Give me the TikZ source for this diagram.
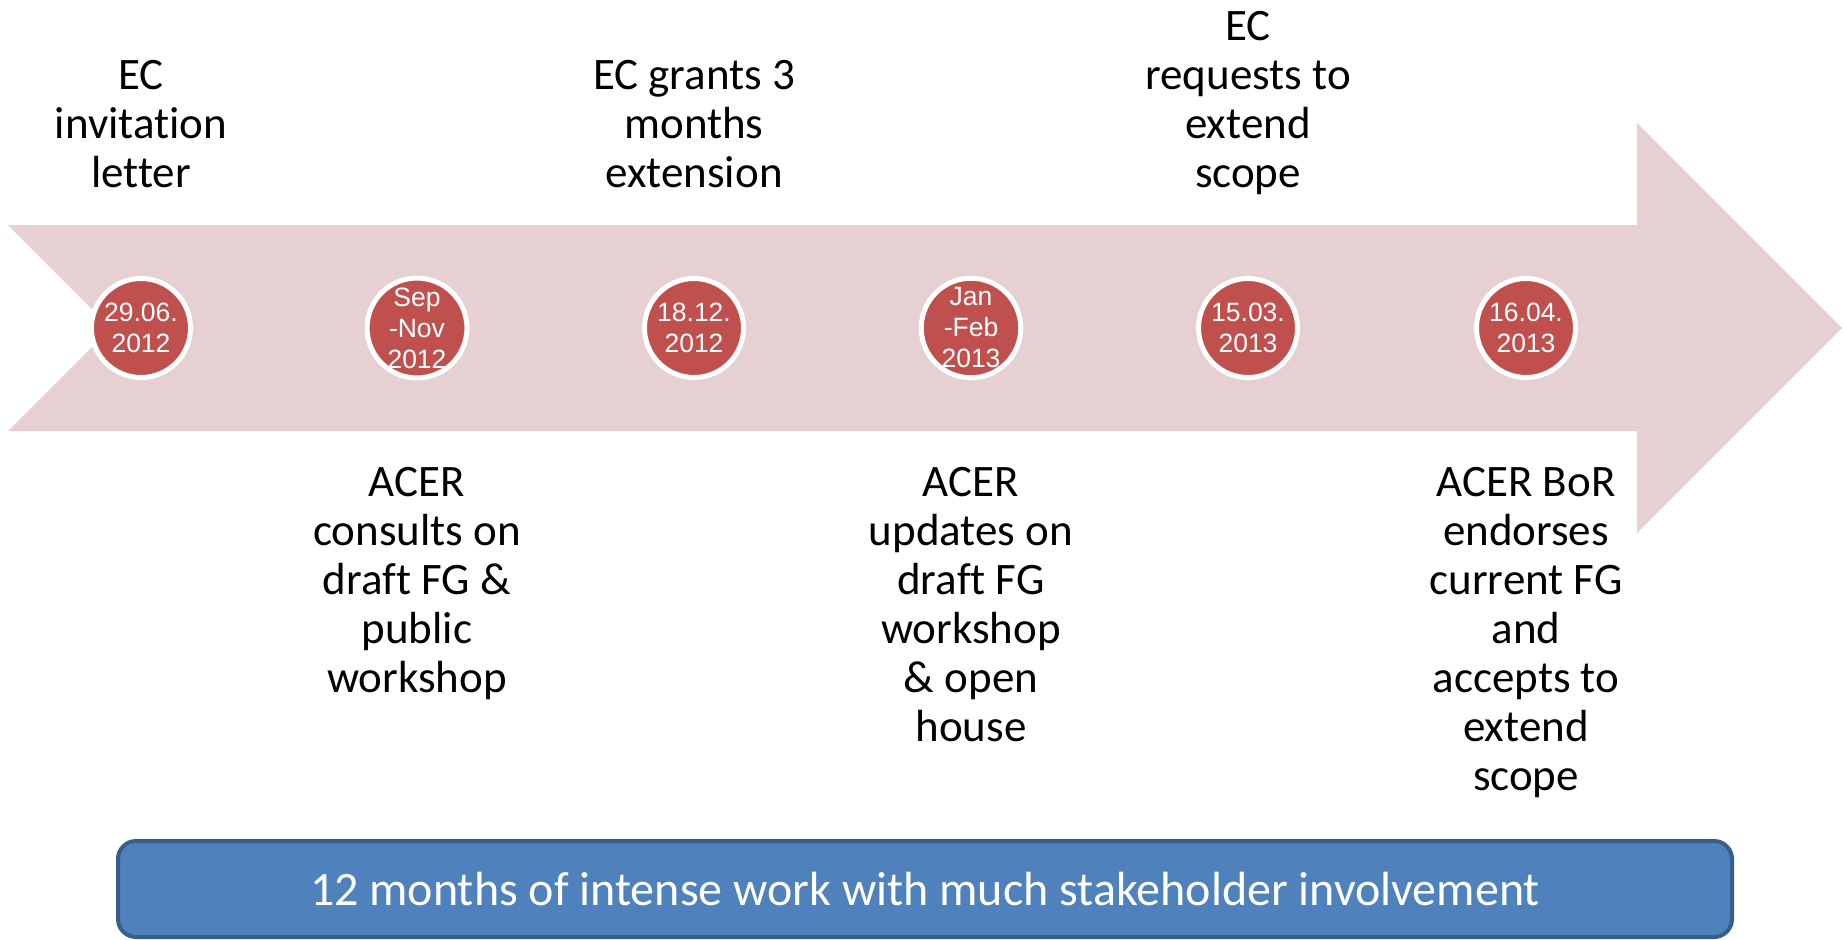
\documentclass[tikz,border=0pt]{standalone}
\usepackage{fontspec}
\setmainfont{Carlito}[Ligatures=NoCommon]
\newfontfamily\datefont{Liberation Sans}
\usepackage{tikz}
\usetikzlibrary{calc,positioning,shapes.geometric}
\definecolor{arrowpink}{HTML}{E7D0D1}
\definecolor{datered}{HTML}{C0504D}
\definecolor{bannerblue}{HTML}{4F81BD}
\definecolor{bannerline}{HTML}{385D8A}
\tikzset{
	datecirc/.style={circle, fill=datered, draw=white, line width=5pt, minimum size=99pt, inner sep=0pt, align=center, text=white, font=\datefont\fontsize{26.5}{31}\selectfont},
	toplabel/.style={anchor=south, align=center, inner sep=0pt, text depth=0pt, font=\fontsize{45}{49}\selectfont},
	botlabel/.style={anchor=north, align=center, inner sep=0pt, font=\fontsize{45}{49}\selectfont},
	bannerbox/.style={rectangle, rounded corners=18pt, fill=bannerblue, draw=bannerline, line width=4pt, minimum width=1614pt, minimum height=96pt, text=white, font=\fontsize{48}{49}\selectfont}
}
\begin{document}
\begin{tikzpicture}[x=1pt,y=-1pt]
	 		\useasboundingbox (0,0) rectangle (1843,939);
	 		% big arrow
	 		\coordinate (L1) at (8,225);
	 		\coordinate (L2) at (8,431);
	 		\coordinate (N) at (111,328);
	 		\coordinate (H1) at (1637,225);
	 		\coordinate (H2) at (1637,123);
	 		\coordinate (T) at (1842,328);
	 		\coordinate (H3) at (1637,533);
	 		\coordinate (H4) at (1637,431);
	 		\fill[arrowpink] (L1)--(H1)--(H2)--(T)--(H3)--(H4)--(L2)--(N)--cycle;
	 		% dates
	 		\node[datecirc] (d1) at (141,328) {29.06.\\2012};
	 		\node[datecirc] (d2) at (417,328) {Sep\\-Nov\\2012};
	 		\node[datecirc] (d3) at (694,328) {18.12.\\2012};
	 		\node[datecirc] (d4) at (971,328) {Jan\\-Feb\\2013};
	 		\node[datecirc] (d5) at (1248,328) {15.03.\\2013};
	 		\node[datecirc] (d6) at (1526,328) {16.04.\\2013};
	 		% events above
	 		\node[toplabel] (e1) at ($(d1)+(0,-140)$) {EC\\invitation\\letter};
	 		\node[toplabel] (e3) at ($(d3)+(0,-140)$) {EC grants 3\\months\\extension};
	 		\node[toplabel] (e5) at ($(d5)+(0,-140)$) {EC\\requests to\\extend\\scope};
	 		% events below
	 		\node[botlabel] (e2) at ($(d2)+(0,139)$) {ACER\\consults on\\draft FG \&\\public\\workshop};
	 		\node[botlabel] (e4) at ($(d4)+(0,139)$) {ACER\\updates on\\draft FG\\workshop\\\& open\\house};
	 		\node[botlabel] (e6) at ($(d6)+(0,139)$) {ACER BoR\\endorses\\current FG\\and\\accepts to\\extend\\scope};
	 		% banner
	 		\node[bannerbox] (banner) at (925,889) {12 months of intense work with much stakeholder involvement};
	 	\end{tikzpicture}
\end{document}
